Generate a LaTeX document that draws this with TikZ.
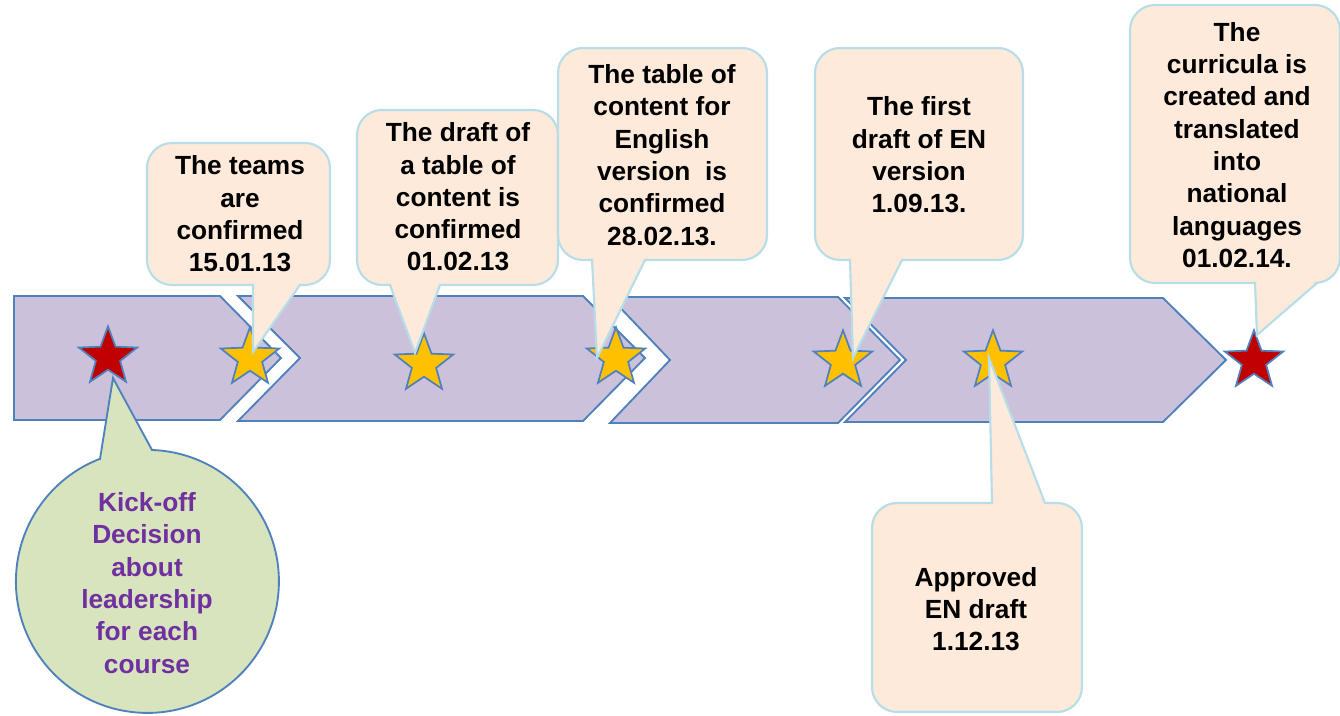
\documentclass[tikz,border=0pt]{standalone}
\usepackage{fontspec}
\setmainfont{Liberation Sans}
\usetikzlibrary{shapes.geometric}
\definecolor{lilac}{RGB}{204,193,218}
\definecolor{edgeblue}{RGB}{79,129,189}
\definecolor{peach}{RGB}{253,234,218}
\definecolor{paleaqua}{RGB}{183,221,232}
\definecolor{sage}{RGB}{215,228,189}
\definecolor{plum}{RGB}{112,48,160}
\definecolor{starred}{RGB}{192,0,0}
\definecolor{stargold}{RGB}{255,192,0}
% rounded box with its pointer on the lower side: L T R B base1 base2 tip
\newcommand{\bubble}[7]{%
\draw[bubble] (#5,#4) -- (#7) -- (#6,#4) -- (#3-25,#4) arc[start angle=90,end angle=0,radius=25]
  -- (#3,#2+25) arc[start angle=0,end angle=-90,radius=25]
  -- (#1+25,#2) arc[start angle=270,end angle=180,radius=25]
  -- (#1,#4-25) arc[start angle=180,end angle=90,radius=25] -- cycle;}
\begin{document}
\begin{tikzpicture}[x=0.75pt,y=-0.75pt,
  chevron/.style={fill=lilac,draw=edgeblue,line width=1.4pt,line join=miter},
  bubble/.style={fill=peach,draw=paleaqua,line width=1.6pt},
  milestone/.style={star,star points=5,star point ratio=2.4,minimum size=46pt,inner sep=0pt,draw=edgeblue,line width=1.3pt},
  note/.style={align=center,font=\fontsize{19.7}{24.2}\selectfont\bfseries,inner sep=0pt}]
\useasboundingbox (0,0) rectangle (1340,716);
% timeline
\draw[chevron] (14,296) -- (220,296) -- (281,358) -- (220,420) -- (14,420) -- cycle;
\draw[chevron] (238,296) -- (583,296) -- (645,358) -- (583,421) -- (238,421) -- (300,358) -- cycle;
\draw[chevron] (610,297) -- (838,297) -- (900,360) -- (838,423) -- (610,423) -- (670,360) -- cycle;
\draw[chevron] (845,298) -- (1163,298) -- (1226,360) -- (1163,422) -- (845,422) -- (906,360) -- cycle;
% milestones
\node[milestone,fill=starred] (s1) at (108,357) {};
\node[milestone,fill=stargold] (s2) at (250,358) {};
\node[milestone,fill=stargold] (s3) at (424,364) {};
\node[milestone,fill=stargold] (s4) at (616,358) {};
\node[milestone,fill=stargold] (s5) at (843,361) {};
\node[milestone,fill=stargold] (s6) at (993,361) {};
\node[milestone,fill=starred] (s7) at (1254,361) {};
% callouts
\bubble{147}{143}{330}{285}{253}{300}{253,352}
\bubble{357}{110}{558}{285}{390}{440}{415,353}
\bubble{558}{48}{767}{260}{592}{645}{597,358}
\bubble{815}{48}{1023}{260}{850}{902}{853,358}
\bubble{1130}{5}{1340}{283}{1255}{1317}{1257,335}
\draw[bubble] (992,503) -- (989,358) -- (1045,503) -- (1057,503) arc[start angle=-90,end angle=0,radius=25]
  -- (1082,687) arc[start angle=0,end angle=90,radius=25]
  -- (897,712) arc[start angle=90,end angle=180,radius=25]
  -- (872,528) arc[start angle=180,end angle=270,radius=25] -- cycle;
\draw[fill=sage,draw=edgeblue,line width=1.4pt] (100,459) -- (113,378) -- (152,450)
  arc[start angle=-88,end angle=248.7,radius=131.5] -- cycle;
% texts
\node[note] (teams) at (240,214) {The teams\\are\\confirmed\\15.01.13};
\node[note] (draft) at (458,197) {The draft of\\a table of\\content is\\confirmed\\01.02.13};
\node[note] (table) at (662,155) {The table of\\content for\\English\\version~ is\\confirmed\\28.02.13.};
\node[note] (first) at (919,155) {The first\\draft of EN\\version\\1.09.13.};
\node[note] (curricula) at (1237,145) {The\\curricula is\\created and\\translated\\into\\national\\languages\\01.02.14.};
\node[note] (approved) at (976,609) {Approved\\EN draft\\1.12.13};
\node[note,text=plum] (kickoff) at (147,583) {Kick-off\\Decision\\about\\leadership\\for each\\course};
\end{tikzpicture}
\end{document}
